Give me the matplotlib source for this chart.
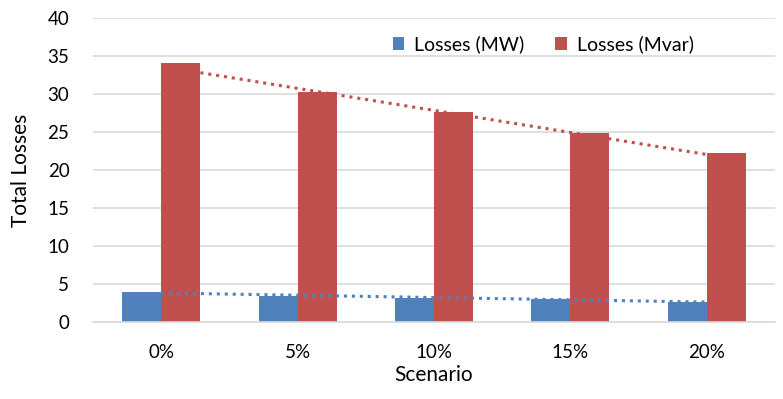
import numpy as np
import matplotlib.pyplot as plt

scenarios = ['0%', '5%', '10%', '15%', '20%']
losses_mw = [3.9, 3.4, 3.2, 3.0, 2.6]
losses_mvar = [34.1, 30.3, 27.6, 24.9, 22.3]

blue = '#4F81BD'
red = '#C0504D'

plt.rcParams['font.family'] = ['Lato', 'DejaVu Sans']

fig = plt.figure(figsize=(7.83, 3.99), dpi=100)
ax = fig.add_axes([93 / 783, 77 / 399, 682 / 783, 304 / 399])

x = np.arange(len(scenarios))
w = 1 / 3.5
ax.bar(x - w / 2, losses_mw, w, color=blue, label='Losses (MW)', zorder=2)
ax.bar(x + w / 2, losses_mvar, w, color=red, label='Losses (Mvar)', zorder=2)

# linear trend lines
for vals, c in [(losses_mw, blue), (losses_mvar, red)]:
    k, b = np.polyfit(x, vals, 1)
    ax.plot(x, k * x + b, linestyle=(0, (1, 1.6)), color=c, linewidth=2.2, zorder=3)

ax.set_xlim(-0.5, len(scenarios) - 0.5)
ax.set_ylim(0, 40)
ax.set_yticks(range(0, 41, 5))
ax.set_xticks(x)
ax.set_xticklabels(scenarios)
ax.yaxis.grid(True, color='#D9D9D9', linewidth=1.2, zorder=0)
ax.set_axisbelow(True)
for s in ['top', 'right', 'left']:
    ax.spines[s].set_visible(False)
ax.spines['bottom'].set_color('#D9D9D9')
ax.spines['bottom'].set_linewidth(1.2)
ax.tick_params(axis='both', length=0, labelsize=13.5, colors='black')
ax.tick_params(axis='x', pad=16)
ax.tick_params(axis='y', pad=17)
ax.set_xlabel('Scenario', fontsize=15, labelpad=3)
ax.set_ylabel('Total Losses', fontsize=15, labelpad=12)

ax.legend(loc='upper center', bbox_to_anchor=(0.66, 1.0), ncol=2, frameon=False,
          fontsize=14, handlelength=0.6, handleheight=0.6, columnspacing=1.6,
          handletextpad=0.5)

fig.savefig('out.png', dpi=100)
